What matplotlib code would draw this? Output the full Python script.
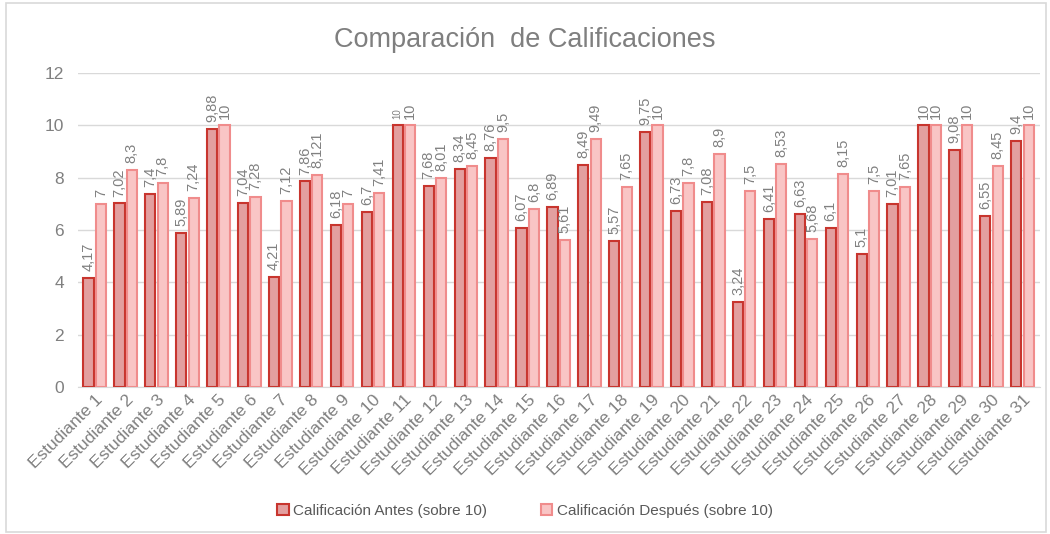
import numpy as np
import matplotlib
matplotlib.use('Agg')
import matplotlib.pyplot as plt
from matplotlib.patches import Rectangle

plt.rcParams['font.family'] = ['Liberation Sans', 'DejaVu Sans']

estudiantes = ["Estudiante %d" % i for i in range(1, 32)]
antes = [4.17, 7.02, 7.4, 5.89, 9.88, 7.04, 4.21, 7.86, 6.18, 6.7, 10, 7.68, 8.34, 8.76, 6.07, 6.89,
         8.49, 5.57, 9.75, 6.73, 7.08, 3.24, 6.41, 6.63, 6.1, 5.1, 7.01, 10, 9.08, 6.55, 9.4]
despues = [7, 8.3, 7.8, 7.24, 10, 7.28, 7.12, 8.121, 7, 7.41, 10, 8.01, 8.45, 9.5, 6.8, 5.61,
           9.49, 7.65, 10, 7.8, 8.9, 7.5, 8.53, 5.68, 8.15, 7.5, 7.65, 10, 10, 8.45, 10]

gray = '#808080'

fig = plt.figure(figsize=(10.5, 5.34), dpi=100)
ax = fig.add_axes([0.074, 0.275, 0.916, 0.588])

x = np.arange(len(estudiantes))
w = 0.33
b1 = ax.bar(x - 0.2, antes, w, color='#E39F9F', edgecolor='#C8352E', linewidth=1.5,
            label='Calificación Antes (sobre 10)', zorder=3)
b2 = ax.bar(x + 0.2, despues, w, color='#F9C5C5', edgecolor='#F08C8C', linewidth=1.5,
            label='Calificación Después (sobre 10)', zorder=3)


def fmt(v):
    s = ('%g' % v).replace('.', ',')
    return s


for bars, vals in [(b1, antes), (b2, despues)]:
    for r, v in zip(bars, vals):
        # the reference shrinks the label of Estudiante 11 (antes)
        fs = 7 if (bars is b1 and r is bars[10]) else 10.5
        ax.annotate(fmt(v), (r.get_x() + r.get_width() / 2, v), xytext=(0, 5),
                    textcoords='offset points', rotation=90, ha='center', va='bottom',
                    fontsize=fs, color=gray)

ax.set_ylim(0, 12)
ax.set_xlim(-0.55, len(estudiantes) - 0.45)
ax.set_yticks(range(0, 13, 2))
ax.yaxis.grid(True, color='#D9D9D9', linewidth=1, zorder=0)
ax.set_axisbelow(True)
for s in ['left', 'right', 'top']:
    ax.spines[s].set_visible(False)
ax.spines['bottom'].set_color('#D9D9D9')
ax.tick_params(axis='both', length=0, colors=gray, labelsize=12.5)
ax.tick_params(axis='y', pad=10)
ax.set_xticks(x)
ax.set_xticklabels(estudiantes, rotation=45, ha='right', rotation_mode='anchor', fontsize=12.5)

fig.suptitle('Comparación  de Calificaciones', y=0.95, fontsize=19.5, color='#7F7F7F')

fig.legend(loc='lower center', bbox_to_anchor=(0.5, 0.004), ncol=2, frameon=False,
           fontsize=11, labelcolor='#595959', handlelength=0.75, handleheight=0.75,
           columnspacing=3.5, handletextpad=0.3)

fig.patches.append(Rectangle((0.006, 0.004), 0.99, 0.99, transform=fig.transFigure,
                             fill=False, edgecolor='#D9D9D9', linewidth=1.2))

fig.savefig('out.png', dpi=100, facecolor='white')
